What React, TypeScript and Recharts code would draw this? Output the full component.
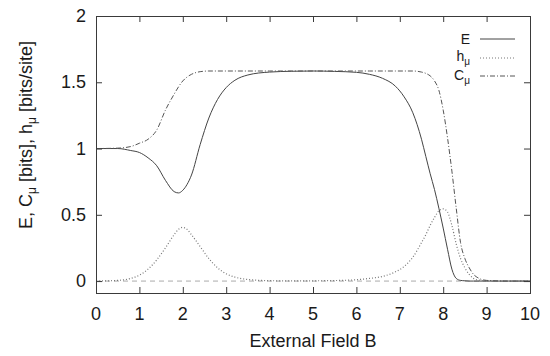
// @ts-nocheck
import React from 'react'
import { LineChart, Line, XAxis, YAxis, ReferenceLine } from 'recharts'

// external field B
const xs = [0, 0.5, 0.8, 1.0, 1.2, 1.4, 1.6, 1.8, 1.9, 2.0, 2.1, 2.2, 2.4, 2.6, 2.8, 3.0, 3.2, 3.5, 4.0, 4.5, 5.0, 5.5, 6.0, 6.3, 6.6, 6.9, 7.1, 7.3, 7.5, 7.6, 7.7, 7.8, 7.9, 8.0, 8.1, 8.2, 8.3, 8.4, 8.5, 8.6, 8.7, 8.8, 9.0, 9.5, 10]
// excess entropy E
const eVals = [1.0, 1.0, 0.985, 0.97, 0.93, 0.87, 0.76, 0.675, 0.665, 0.685, 0.73, 0.8, 1.03, 1.23, 1.37, 1.46, 1.515, 1.555, 1.577, 1.583, 1.585, 1.582, 1.575, 1.56, 1.53, 1.47, 1.39, 1.27, 1.07, 0.94, 0.81, 0.69, 0.55, 0.4, 0.24, 0.09, 0.02, 0.005, 0.002, 0, 0, 0, 0, 0, 0]
// entropy rate h_mu
const hVals = [0, 0.005, 0.02, 0.045, 0.09, 0.16, 0.25, 0.35, 0.39, 0.405, 0.39, 0.35, 0.26, 0.17, 0.1, 0.055, 0.03, 0.012, 0.003, 0.001, 0.002, 0.004, 0.01, 0.02, 0.035, 0.07, 0.11, 0.18, 0.29, 0.35, 0.42, 0.48, 0.53, 0.545, 0.52, 0.42, 0.28, 0.17, 0.1, 0.05, 0.02, 0.008, 0.001, 0, 0]
// statistical complexity C_mu
const cVals = [1.0, 1.003, 1.015, 1.04, 1.07, 1.14, 1.29, 1.41, 1.465, 1.51, 1.54, 1.56, 1.58, 1.585, 1.585, 1.585, 1.585, 1.585, 1.585, 1.585, 1.585, 1.585, 1.585, 1.585, 1.585, 1.585, 1.585, 1.585, 1.577, 1.567, 1.548, 1.51, 1.44, 1.29, 1.08, 0.83, 0.55, 0.29, 0.17, 0.1, 0.05, 0.025, 0.005, 0, 0]

const xTicks = [0, 1, 2, 3, 4, 5, 6, 7, 8, 9, 10]
const yTicks = [0, 0.5, 1, 1.5, 2]
const X_DOMAIN = [0, 10]
const Y_DOMAIN = [-0.09, 2]

const data = xs.map((x, i) => ({ x, E: eVals[i], h: hVals[i], C: cVals[i] }))

// layout
const W = 550, H = 356
const M_TOP = 16, M_RIGHT = 20, Y_AXIS_W = 96, X_AXIS_H = 63
const PLOT_W = W - M_RIGHT - Y_AXIS_W
const PLOT_H = H - M_TOP - X_AXIS_H

const FONT = '"Liberation Sans", Arial, Helvetica, sans-serif'
const FRAME = '#3a3a3a'
const TXT = '#1a1a1a'

const BottomTick = ({ x, y, payload }) => (
  <text x={x} y={y + 27} textAnchor="middle" fill={TXT} fontSize={18} fontFamily={FONT}>{payload.value}</text>
)
const LeftTick = ({ x, y, payload }) => (
  <text x={x - 10} y={y + 6} textAnchor="end" fill={TXT} fontSize={18} fontFamily={FONT}>{payload.value}</text>
)

const YLabel = () => (
  <text transform="rotate(-90)" x={-135} y={32} textAnchor="middle" fill={TXT} fontSize={18} fontFamily={FONT}>
    E, C<tspan dy={4} fontSize={12}>μ</tspan><tspan dy={-4}> [bits], h</tspan><tspan dy={4} fontSize={12}>μ</tspan><tspan dy={-4}> [bits/site]</tspan>
  </text>
)
const XLabel = () => (
  <text x={Y_AXIS_W + PLOT_W / 2} y={347} textAnchor="middle" fill={TXT} fontSize={18} fontFamily={FONT}>External Field B</text>
)

// gnuplot-style box with inward ticks on all four sides
const px = (v: number) => Y_AXIS_W + ((v - X_DOMAIN[0]) / (X_DOMAIN[1] - X_DOMAIN[0])) * PLOT_W
const py = (v: number) => M_TOP + ((Y_DOMAIN[1] - v) / (Y_DOMAIN[1] - Y_DOMAIN[0])) * PLOT_H

const FrameBox = () => (
  <svg width={W} height={H} style={{ position: 'absolute', left: 0, top: 0, pointerEvents: 'none' }}>
    <rect x={Y_AXIS_W + 0.5} y={M_TOP + 0.5} width={PLOT_W} height={PLOT_H} fill="none" stroke={FRAME} />
    {xTicks.map(t => (
      <g key={'x' + t}>
        <line x1={px(t) + 0.5} x2={px(t) + 0.5} y1={M_TOP + PLOT_H} y2={M_TOP + PLOT_H - 6} stroke={FRAME} />
        <line x1={px(t) + 0.5} x2={px(t) + 0.5} y1={M_TOP} y2={M_TOP + 6} stroke={FRAME} />
      </g>
    ))}
    {yTicks.map(t => (
      <g key={'y' + t}>
        <line x1={Y_AXIS_W} x2={Y_AXIS_W + 6} y1={py(t) + 0.5} y2={py(t) + 0.5} stroke={FRAME} />
        <line x1={Y_AXIS_W + PLOT_W} x2={Y_AXIS_W + PLOT_W - 6} y1={py(t) + 0.5} y2={py(t) + 0.5} stroke={FRAME} />
      </g>
    ))}
  </svg>
)

const legendRows = [
  { name: 'E', sub: '', dash: undefined, color: '#444' },
  { name: 'h', sub: 'μ', dash: '1 2', color: '#777' },
  { name: 'C', sub: 'μ', dash: '5 2 1 2', color: '#555' },
]

const LegendBox = () => (
  <div style={{ position: 'absolute', left: 400, top: 30, fontFamily: FONT, fontSize: 14, color: TXT }}>
    {legendRows.map(r => (
      <div key={r.name} style={{ display: 'flex', alignItems: 'center', height: 18.5 }}>
        <div style={{ width: 70, textAlign: 'right' }}>
          {r.name}{r.sub && <sub style={{ fontSize: 10 }}>{r.sub}</sub>}
        </div>
        <svg width={46} height={10} style={{ marginLeft: 10 }}>
          <line x1={0} x2={35} y1={5} y2={5} stroke={r.color} strokeWidth={1} strokeDasharray={r.dash} />
        </svg>
      </div>
    ))}
  </div>
)

export default function App() {
  return (
    <div style={{ position: 'absolute', left: 0, top: 0, width: W, height: H, background: '#fff' }}>
      <LineChart width={W} height={H} data={data} margin={{ top: M_TOP, right: M_RIGHT, bottom: 0, left: 0 }}>
        <XAxis dataKey="x" type="number" domain={X_DOMAIN} ticks={xTicks} height={X_AXIS_H}
          axisLine={false} tickLine={false} tickSize={0} tickMargin={0} tick={<BottomTick />} label={<XLabel />} />
        <YAxis type="number" domain={Y_DOMAIN} ticks={yTicks} width={Y_AXIS_W} allowDataOverflow
          axisLine={false} tickLine={false} tickSize={0} tickMargin={0} tick={<LeftTick />} label={<YLabel />} />
        <ReferenceLine y={0} stroke="#aaa" strokeDasharray="5 4" />
        <Line type="monotone" dataKey="E" name="E" stroke="#444" strokeWidth={1} dot={false} isAnimationActive={false} />
        <Line type="monotone" dataKey="h" name="h" stroke="#777" strokeWidth={1.2} strokeDasharray="1 2" dot={false} isAnimationActive={false} />
        <Line type="monotone" dataKey="C" name="C" stroke="#555" strokeWidth={1} strokeDasharray="5 2 1 2" dot={false} isAnimationActive={false} />
      </LineChart>
      <FrameBox />
      <LegendBox />
    </div>
  )
}
